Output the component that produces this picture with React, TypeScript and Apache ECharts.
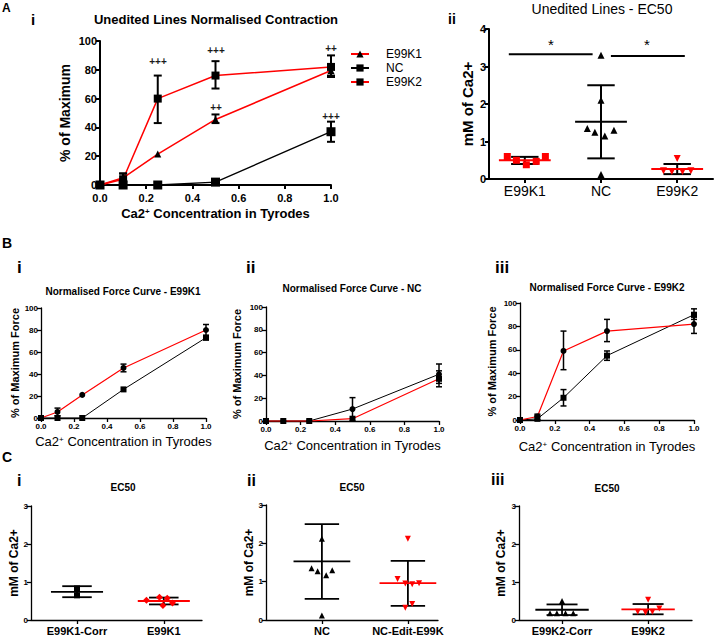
import React, { useEffect, useRef } from 'react';
import * as echarts from 'echarts';

const FONT = '"Liberation Sans", Arial, Helvetica, sans-serif';
const BLACK = '#000000';
const RED = '#ff0000';

// ---------- Concentration axis (mM Ca2+ in Tyrodes) ----------
const conc = [0, 0.1, 0.25, 0.5, 1.0];

// ---------- Panel A i : Unedited lines normalised contraction ----------
const aiE99K1 = [0, 5, 21.5, 45.5, 79.5];
const aiE99K1Lo = [null, 3, null, 43, 76];
const aiE99K1Hi = [null, 8, null, 49, 84];
const aiNC = [0, 0, 0, 2, 37];
const aiNCLo = [null, null, null, null, 30];
const aiNCHi = [null, null, null, null, 44];
const aiE99K2 = [0, 4, 60, 76, 82];
const aiE99K2Lo = [null, 0, 43, 67, 75];
const aiE99K2Hi = [null, 8, 76, 86, 90];
const aiSigX = [0.25, 0.5, 0.5, 1.0, 1.0];
const aiSigY = [86, 94, 54, 95, 48];
const aiSigText = ['+++', '+++', '++', '++', '+++'];

// ---------- Panel A ii : Unedited lines EC50 ----------
const aiiCats = ['E99K1', 'NC', 'E99K2'];
const aiiE99K1 = [0.6, 0.5, 0.38, 0.47, 0.6];
const aiiE99K1Jit = [-0.23, -0.11, 0.02, 0.15, 0.27];
const aiiNC = [3.3, 2.1, 1.35, 1.25, 1.15, 1.3, 0.12];
const aiiNCJit = [0, 0, -0.18, -0.08, 0.05, 0.17, 0];
const aiiE99K2 = [0.55, 0.22, 0.2, 0.2, 0.22];
const aiiE99K2Jit = [0, -0.18, -0.07, 0.07, 0.18];
const aiiMean = [0.5, 1.53, 0.27];
const aiiSdLo = [0.4, 0.55, 0.13];
const aiiSdHi = [0.59, 2.5, 0.4];
const aiiSigFrom = [-0.21, 1.13];
const aiiSigTo = [0.89, 2.1];
const aiiSigY = [3.33, 3.28];
const aiiStarX = [0.34, 1.6];
const aiiStarY = [3.6, 3.6];

// ---------- Panel B : normalised force curves ----------
const biRed = [0, 5.5, 21, 45.5, 80];
const biRedLo = [null, 2, null, 42, 75];
const biRedHi = [null, 9, null, 49, 85];
const biBlack = [0, 0, 0, 26, 73];
const biBlackLo = [null, null, null, null, 71];
const biBlackHi = [null, null, null, null, 75];

const biiBlack = [0, 0, 0, 10.5, 41];
const biiBlackLo = [null, null, null, 0, 33];
const biiBlackHi = [null, null, null, 20.5, 50];
const biiRed = [0, 0, 0, 2, 37];
const biiRedLo = [null, null, null, null, 30];
const biiRedHi = [null, null, null, null, 44];

const biiiRed = [0, 3, 59, 76, 82];
const biiiRedLo = [null, 0, 43, 67, 74];
const biiiRedHi = [null, 5, 76, 86, 88];
const biiiBlack = [0, 1, 19, 55, 90];
const biiiBlackLo = [null, 0, 12, 51, 86];
const biiiBlackHi = [null, 4, 26, 59, 95];

// ---------- Panel C : EC50 comparisons ----------
const ciCats = ['E99K1-Corr', 'E99K1'];
const ciCorr = [0.83, 0.65];
const ciCorrJit = [0, 0];
const ciE99K1 = [0.52, 0.6, 0.57, 0.45, 0.38];
const ciE99K1Jit = [-0.2, -0.05, 0.04, 0.1, -0.01];
const ciMean = [0.74, 0.5];
const ciSdLo = [0.6, 0.41];
const ciSdHi = [0.89, 0.59];

const ciiCats = ['NC', 'NC-Edit-E99K'];
const ciiNC = [2.12, 1.35, 1.27, 1.17, 1.3, 0.12];
const ciiNCJit = [0, -0.12, -0.05, 0.05, 0.12, 0];
const ciiEdit = [2.12, 1.07, 0.95, 0.93, 0.96, 0.42, 0.32];
const ciiEditJit = [0, -0.12, -0.03, 0.05, 0.13, 0.05, -0.03];
const ciiMean = [1.53, 0.96];
const ciiSdLo = [0.55, 0.37];
const ciiSdHi = [2.5, 1.54];

const ciiiCats = ['E99K2-Corr', 'E99K2'];
const ciiiCorr = [0.5, 0.18, 0.18, 0.18, 0.18];
const ciiiCorrJit = [0, -0.14, -0.06, 0.04, 0.13];
const ciiiE99K2 = [0.53, 0.22, 0.2, 0.22, 0.3];
const ciiiE99K2Jit = [0, -0.12, -0.03, 0.05, 0.13];
const ciiiMean = [0.27, 0.28];
const ciiiSdLo = [0.13, 0.15];
const ciiiSdHi = [0.41, 0.42];

const sup = { fontSize: 8, fontFamily: FONT, verticalAlign: 'top', lineHeight: 10 } as any;

function yAxisCfg(gi: number, max: number, interval: number, fs: number, lw: number,
  name: string, nameGap: number, nameFs: number, nameWeight: string) {
  return {
    type: 'value', gridIndex: gi, min: 0, max, interval,
    axisLine: { show: true, onZero: false, lineStyle: { color: BLACK, width: lw } },
    axisTick: { show: true, length: 4, lineStyle: { color: BLACK, width: lw } },
    splitLine: { show: false },
    axisLabel: { color: BLACK, fontSize: fs, fontWeight: 'bold', fontFamily: FONT, margin: 3 },
    name, nameLocation: 'middle', nameGap, nameRotate: 90,
    nameTextStyle: { color: BLACK, fontSize: nameFs, fontWeight: nameWeight, fontFamily: FONT },
  };
}

function concXAxis(gi: number, fs: number, lw: number, nameGap: number, nameFs: number, nameWeight: string, margin: number) {
  return {
    type: 'value', gridIndex: gi, min: 0, max: 1, interval: 0.2,
    axisLine: { show: true, onZero: false, lineStyle: { color: BLACK, width: lw } },
    axisTick: { show: true, length: 4, lineStyle: { color: BLACK, width: lw } },
    splitLine: { show: false },
    axisLabel: { color: BLACK, fontSize: fs, fontWeight: 'bold', fontFamily: FONT, margin,
      formatter: (v: number) => v.toFixed(1) },
    name: 'Ca2{sup|+} Concentration in Tyrodes', nameLocation: 'middle', nameGap,
    nameTextStyle: { color: BLACK, fontSize: nameFs, fontWeight: nameWeight, fontFamily: FONT,
      rich: { sup: { ...sup, fontWeight: nameWeight } } },
  };
}

function groupXAxis(gi: number, min: number, max: number, cats: string[], fs: number, weight: string, lw: number) {
  const idx = cats.map((_, i) => i);
  return {
    type: 'value', gridIndex: gi, min, max,
    axisLine: { show: true, onZero: false, lineStyle: { color: BLACK, width: lw } },
    axisTick: { show: true, length: 4, customValues: idx, lineStyle: { color: BLACK, width: lw } },
    splitLine: { show: false },
    axisLabel: { customValues: idx, color: BLACK, fontSize: fs, fontWeight: weight, fontFamily: FONT, margin: 5,
      formatter: (v: number) => cats[Math.round(v)] ?? '' },
  };
}

function curve(name: string, ai: number, ys: number[], color: string, symbol: string, size: number, lw: number) {
  return {
    type: 'line', name, xAxisIndex: ai, yAxisIndex: ai,
    data: conc.map((x, i) => [x, ys[i]]),
    symbol, symbolSize: size, showAllSymbol: true, clip: false,
    itemStyle: { color: BLACK },
    lineStyle: { color, width: lw },
    emphasis: { disabled: true }, z: 3,
  };
}

function errBars(ai: number, lo: (number | null)[], hi: (number | null)[], cap: number, lw: number) {
  const data: number[][] = [];
  conc.forEach((x, i) => { if (lo[i] != null && hi[i] != null) data.push([x, lo[i] as number, hi[i] as number]); });
  return {
    type: 'custom', xAxisIndex: ai, yAxisIndex: ai, data, silent: true, z: 4, clip: false,
    renderItem: (_p: any, api: any) => {
      const x = api.value(0);
      const a = api.coord([x, api.value(1)]);
      const b = api.coord([x, api.value(2)]);
      const st = { stroke: BLACK, lineWidth: lw };
      return {
        type: 'group', children: [
          { type: 'line', shape: { x1: a[0], y1: a[1], x2: b[0], y2: b[1] }, style: st },
          { type: 'line', shape: { x1: a[0] - cap, y1: a[1], x2: a[0] + cap, y2: a[1] }, style: st },
          { type: 'line', shape: { x1: b[0] - cap, y1: b[1], x2: b[0] + cap, y2: b[1] }, style: st },
        ],
      };
    },
  };
}

function summary(ai: number, means: number[], lo: number[], hi: number[], meanColors: string[],
  meanHalf: number, capHalf: number, lw: number) {
  return {
    type: 'custom', xAxisIndex: ai, yAxisIndex: ai, silent: true, z: 2,
    data: means.map((m, i) => [i, m, lo[i], hi[i]]),
    renderItem: (p: any, api: any) => {
      const c = api.value(0), m = api.value(1), l = api.value(2), h = api.value(3);
      const m1 = api.coord([c - meanHalf, m]), m2 = api.coord([c + meanHalf, m]);
      const l1 = api.coord([c - capHalf, l]), l2 = api.coord([c + capHalf, l]);
      const h1 = api.coord([c - capHalf, h]), h2 = api.coord([c + capHalf, h]);
      const v1 = api.coord([c, l]), v2 = api.coord([c, h]);
      const st = { stroke: BLACK, lineWidth: lw };
      return {
        type: 'group', children: [
          { type: 'line', shape: { x1: v1[0], y1: v1[1], x2: v2[0], y2: v2[1] }, style: st },
          { type: 'line', shape: { x1: l1[0], y1: l1[1], x2: l2[0], y2: l2[1] }, style: st },
          { type: 'line', shape: { x1: h1[0], y1: h1[1], x2: h2[0], y2: h2[1] }, style: st },
          { type: 'line', shape: { x1: m1[0], y1: m1[1], x2: m2[0], y2: m2[1] },
            style: { stroke: meanColors[p.dataIndex], lineWidth: lw } },
        ],
      };
    },
  };
}

function points(ai: number, cat: number, vals: number[], jit: number[], color: string, symbol: string, size: number, rotate = 0) {
  return {
    type: 'scatter', xAxisIndex: ai, yAxisIndex: ai,
    data: vals.map((v, i) => [cat + jit[i], v]),
    symbol, symbolSize: size, symbolRotate: rotate,
    itemStyle: { color, opacity: 1 }, emphasis: { disabled: true }, z: 5, clip: false,
  };
}

function labels(ai: number, xs: number[], ys: number[], texts: string[], fs: number, weight: string) {
  return {
    type: 'custom', xAxisIndex: ai, yAxisIndex: ai, silent: true, z: 6, clip: false,
    itemStyle: { color: BLACK },
    data: xs.map((x, i) => [x, ys[i], i]),
    renderItem: (_p: any, api: any) => {
      const pt = api.coord([api.value(0), api.value(1)]);
      return { type: 'text', x: Math.round(pt[0]), y: Math.round(pt[1]),
        style: { text: texts[api.value(2)], fill: BLACK, fontSize: fs, fontWeight: weight, fontFamily: FONT,
          align: 'center', verticalAlign: 'middle' } };
    },
  };
}

function text(t: string, x: number, y: number, font: string, align = 'left', vAlign = 'top', fill = BLACK) {
  return { type: 'text', x, y, silent: true, z: 50,
    style: { text: t, font: font + ' ' + FONT, fill, textAlign: align, textVerticalAlign: vAlign } };
}

export default function App() {
  const ref = useRef<HTMLDivElement>(null);
  useEffect(() => {
    document.body.style.margin = '0';
    const chart = echarts.init(ref.current as HTMLDivElement, null, { renderer: 'svg' });
    const baseGraphic = [
      text('A', 2, 2, 'bold 12px'),
      text('i', 31, 12, 'bold 15px'),
      text('ii', 448, 12, 'bold 14px'),
      text('B', 2, 236, 'bold 14px'),
      text('i', 17, 259, 'bold 17px'),
      text('ii', 246, 259, 'bold 17px'),
      text('iii', 495, 259, 'bold 17px'),
      text('C', 2, 450, 'bold 14px'),
      text('i', 17, 472, 'bold 16px'),
      text('ii', 247, 472, 'bold 16px'),
      text('iii', 491, 471, 'bold 16px'),
      text('Unedited Lines Normalised Contraction', 216, 19, 'bold 13px', 'center', 'middle'),
      text('Unedited Lines - EC50', 602, 9, 'normal 14px', 'center', 'middle'),
      text('Normalised Force Curve - E99K1', 123, 291, 'bold 10px', 'center', 'middle'),
      text('Normalised Force Curve - NC', 352, 288, 'bold 10px', 'center', 'middle'),
      text('Normalised Force Curve - E99K2', 607, 287, 'bold 10px', 'center', 'middle'),
      text('EC50', 123, 487, 'bold 10px', 'center', 'middle'),
      text('EC50', 352, 487, 'bold 10px', 'center', 'middle'),
      text('EC50', 607, 488, 'bold 10px', 'center', 'middle'),
    ];
    const option: any = {
      animation: false,
      textStyle: { fontFamily: FONT },
      grid: [
        { left: 100, top: 41, width: 231, height: 144 },
        { left: 489, top: 29, width: 224, height: 150 },
        { left: 41, top: 308, width: 165, height: 110 },
        { left: 266, top: 307, width: 173, height: 114 },
        { left: 520, top: 303, width: 174, height: 117 },
        { left: 31, top: 506, width: 171, height: 115 },
        { left: 266, top: 505, width: 172, height: 116 },
        { left: 519, top: 506, width: 173, height: 115 },
      ],
      xAxis: [
        concXAxis(0, 11, 2, 22, 13, 'bold', 7),
        groupXAxis(1, -0.47, 2.47, aiiCats, 14, 'normal', 2),
        concXAxis(2, 8, 1.3, 17, 13, 'normal', 4),
        concXAxis(3, 8, 1.3, 18, 13, 'normal', 4),
        concXAxis(4, 8, 1.3, 20, 13, 'normal', 4),
        groupXAxis(5, -0.53, 1.44, ciCats, 11, 'bold', 1.3),
        groupXAxis(6, -0.65, 1.35, ciiCats, 11, 'bold', 1.3),
        groupXAxis(7, -0.5, 1.51, ciiiCats, 11, 'bold', 1.3),
      ],
      yAxis: [
        yAxisCfg(0, 100, 20, 11, 2, '% of Maximum', 28, 14, 'bold'),
        yAxisCfg(1, 4, 1, 11, 2, 'mM of Ca2+', 14, 15, 'bold'),
        yAxisCfg(2, 100, 20, 8, 1.3, '% of Maximum Force', 18, 11, 'bold'),
        yAxisCfg(3, 100, 20, 8, 1.3, '% of Maximum Force', 24, 11, 'bold'),
        yAxisCfg(4, 100, 20, 8, 1.3, '% of Maximum Force', 23, 11, 'bold'),
        yAxisCfg(5, 3, 1, 8, 1.3, 'mM of Ca2+', 8, 12, 'bold'),
        yAxisCfg(6, 3, 1, 8, 1.3, 'mM of Ca2+', 7, 12, 'bold'),
        yAxisCfg(7, 3, 1, 8, 1.3, 'mM of Ca2+', 12, 12, 'bold'),
      ],
      legend: {
        data: ['E99K1', 'NC', 'E99K2'], orient: 'vertical', left: 345, top: 43,
        itemGap: 2, itemWidth: 18, itemHeight: 9, selectedMode: false,
        textStyle: { color: BLACK, fontSize: 12, fontFamily: FONT, padding: [0, 0, 0, 12] },
      },
      graphic: baseGraphic,
      series: [
        // A i
        curve('NC', 0, aiNC, BLACK, 'rect', 9, 1.3),
        curve('E99K1', 0, aiE99K1, RED, 'triangle', 7, 1.5),
        curve('E99K2', 0, aiE99K2, RED, 'rect', 8, 1.5),
        errBars(0, aiE99K1Lo, aiE99K1Hi, 4, 2),
        errBars(0, aiNCLo, aiNCHi, 4, 2),
        errBars(0, aiE99K2Lo, aiE99K2Hi, 4, 2),
        // A ii
        summary(1, aiiMean, aiiSdLo, aiiSdHi, [RED, BLACK, RED], 0.34, 0.18, 2),
        points(1, 0, aiiE99K1, aiiE99K1Jit, RED, 'rect', 7),
        points(1, 1, aiiNC, aiiNCJit, BLACK, 'triangle', 7),
        points(1, 2, aiiE99K2, aiiE99K2Jit, RED, 'triangle', 7, 180),
        {
          type: 'custom', xAxisIndex: 1, yAxisIndex: 1, silent: true, z: 3,
          data: aiiSigFrom.map((f, i) => [f, aiiSigY[i], aiiSigTo[i]]),
          renderItem: (_p: any, api: any) => {
            const a = api.coord([api.value(0), api.value(1)]);
            const b = api.coord([api.value(2), api.value(1)]);
            return { type: 'line', shape: { x1: a[0], y1: a[1], x2: b[0], y2: b[1] },
              style: { stroke: BLACK, lineWidth: 2 } };
          },
        },
        labels(1, aiiStarX, aiiStarY, ['*', '*'], 15, 'normal'),
        // B i
        curve('', 2, biBlack, BLACK, 'rect', 6, 1),
        curve('', 2, biRed, RED, 'circle', 6, 1.2),
        errBars(2, biRedLo, biRedHi, 3, 1.5),
        errBars(2, biBlackLo, biBlackHi, 3, 1.5),
        // B ii
        curve('', 3, biiBlack, BLACK, 'circle', 6, 1),
        curve('', 3, biiRed, RED, 'rect', 6, 1.2),
        errBars(3, biiBlackLo, biiBlackHi, 3, 1.5),
        errBars(3, biiRedLo, biiRedHi, 3, 1.5),
        // B iii
        curve('', 4, biiiBlack, BLACK, 'rect', 6, 1),
        curve('', 4, biiiRed, RED, 'circle', 6, 1.2),
        errBars(4, biiiBlackLo, biiiBlackHi, 3, 1.5),
        errBars(4, biiiRedLo, biiiRedHi, 3, 1.5),
        // C i
        summary(5, ciMean, ciSdLo, ciSdHi, [BLACK, RED], 0.3, 0.17, 1.8),
        points(5, 0, ciCorr, ciCorrJit, BLACK, 'rect', 6),
        points(5, 1, ciE99K1, ciE99K1Jit, RED, 'diamond', 7),
        // C ii
        summary(6, ciiMean, ciiSdLo, ciiSdHi, [BLACK, RED], 0.33, 0.2, 1.8),
        points(6, 0, ciiNC, ciiNCJit, BLACK, 'triangle', 6),
        points(6, 1, ciiEdit, ciiEditJit, RED, 'triangle', 6, 180),
        // C iii
        summary(7, ciiiMean, ciiiSdLo, ciiiSdHi, [BLACK, RED], 0.31, 0.18, 1.8),
        points(7, 0, ciiiCorr, ciiiCorrJit, BLACK, 'triangle', 6),
        points(7, 1, ciiiE99K2, ciiiE99K2Jit, RED, 'triangle', 6, 180),
      ],
    };
    chart.setOption(option);
    // significance marks of panel A i, placed through the panel's own scales
    const sigTexts = aiSigX.map((x, i) => {
      const pt = chart.convertToPixel({ gridIndex: 0 }, [x, aiSigY[i]]) as number[];
      return text(aiSigText[i], Math.round(pt[0]), Math.round(pt[1]), 'bold 10px', 'center', 'middle', '#1a1a1a');
    });
    chart.setOption({ graphic: [...baseGraphic, ...sigTexts] });
    return () => chart.dispose();
  }, []);
  return <div ref={ref} style={{ width: 716, height: 636 }} />;
}
